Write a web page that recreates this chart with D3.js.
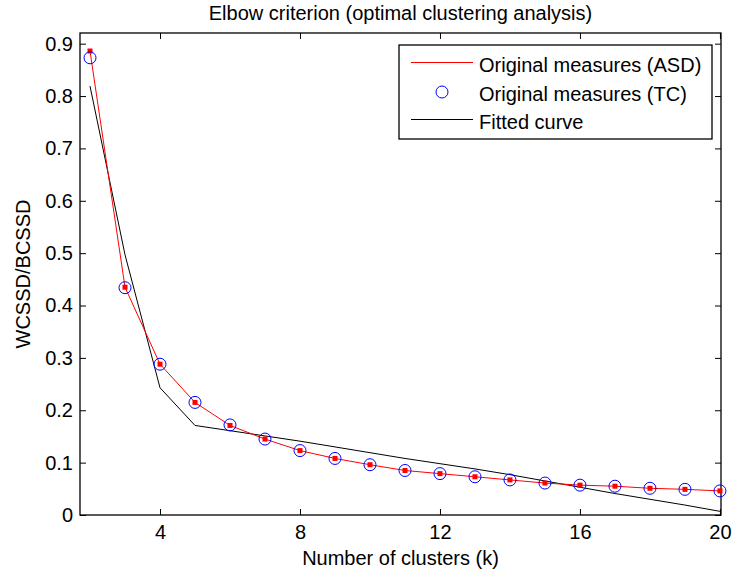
<!DOCTYPE html>
<html>

<head>
  <script src="https://d3js.org/d3.v7.min.js"></script>
  <style>
    body {
      margin: 0;
      background: #fff;
    }

    text {
      font-family: "Liberation Sans", Arial, sans-serif;
      fill: #000;
    }

    .tick line {
      stroke: #000;
    }
  </style>
</head>

<body>
  <div id="chart"></div>
  <script type="text/javascript">
    // number of clusters
    var clusters = [2, 3, 4, 5, 6, 7, 8, 9, 10, 11, 12, 13, 14, 15, 16, 17, 18, 19, 20];
    // red line with square markers
    var asd = [0.886, 0.435, 0.288, 0.215, 0.171, 0.145, 0.123, 0.108, 0.096, 0.085, 0.079, 0.073,
      0.067, 0.061, 0.057, 0.055, 0.051, 0.049, 0.046];
    // blue circles
    var tc = [0.873, 0.434, 0.288, 0.215, 0.172, 0.145, 0.123, 0.108, 0.096, 0.085, 0.079, 0.073,
      0.067, 0.061, 0.057, 0.055, 0.051, 0.049, 0.046];
    // black fitted curve
    var fitted = [0.819, 0.497, 0.243, 0.171, 0.161, 0.151, 0.141, 0.130, 0.119, 0.108, 0.098, 0.088,
      0.077, 0.065, 0.053, 0.041, 0.030, 0.019, 0.007];

    var xTicks = [4, 8, 12, 16, 20];
    var yTicks = [0, 0.1, 0.2, 0.3, 0.4, 0.5, 0.6, 0.7, 0.8, 0.9];
    var legendLabels = ["Original measures (ASD)", "Original measures (TC)", "Fitted curve"];

    var svg = d3.select("#chart").append("svg")
      .attr("width", 733)
      .attr("height", 575);

    var plotL = 80, plotR = 721, plotT = 33, plotB = 515;

    var x = d3.scaleLinear().domain([1.714, 20.03]).range([plotL, plotR]);
    var y = d3.scaleLinear().domain([0, 0.9204]).range([plotB, plotT]);

    // axes, ticks pointing inward
    svg.append("g")
      .attr("transform", "translate(0," + plotB + ")")
      .call(d3.axisBottom(x).tickValues(xTicks).tickSizeInner(-6).tickSizeOuter(0).tickPadding(10))
      .call(function (g) {g.select(".domain").remove();})
      .selectAll("text").style("font-size", "20px");

    svg.append("g")
      .attr("transform", "translate(0," + plotT + ")")
      .call(d3.axisTop(x).tickValues(xTicks).tickSizeInner(-6).tickSizeOuter(0).tickFormat(""))
      .call(function (g) {g.select(".domain").remove();});

    svg.append("g")
      .attr("transform", "translate(" + plotL + ",0)")
      .call(d3.axisLeft(y).tickValues(yTicks).tickSizeInner(-6).tickSizeOuter(0).tickPadding(7)
        .tickFormat(function (d) {return d === 0 ? "0" : d3.format(".1f")(d);}))
      .call(function (g) {g.select(".domain").remove();})
      .selectAll("text").style("font-size", "20px");

    svg.append("g")
      .attr("transform", "translate(" + plotR + ",0)")
      .call(d3.axisRight(y).tickValues(yTicks).tickSizeInner(-6).tickSizeOuter(0).tickFormat(""))
      .call(function (g) {g.select(".domain").remove();});

    svg.append("rect")
      .attr("x", plotL)
      .attr("y", plotT)
      .attr("width", plotR - plotL)
      .attr("height", plotB - plotT)
      .attr("fill", "none")
      .attr("stroke", "#000")
      .attr("stroke-width", 1.3);

    // fitted curve
    var line = d3.line()
      .x(function (d) {return x(d[0]);})
      .y(function (d) {return y(d[1]);});

    svg.append("path")
      .datum(d3.zip(clusters, fitted))
      .attr("d", line)
      .attr("fill", "none")
      .attr("stroke", "#000")
      .attr("stroke-width", 1);

    // ASD line + square markers
    svg.append("path")
      .datum(d3.zip(clusters, asd))
      .attr("d", line)
      .attr("fill", "none")
      .attr("stroke", "#ff0000")
      .attr("stroke-width", 1);

    svg.append("g").selectAll("rect")
      .data(d3.zip(clusters, asd))
      .enter().append("rect")
      .attr("x", function (d) {return x(d[0]) - 2.5;})
      .attr("y", function (d) {return y(d[1]) - 2.5;})
      .attr("width", 5)
      .attr("height", 5)
      .attr("fill", "#ff0000");

    // TC circles
    svg.append("g").selectAll("circle")
      .data(d3.zip(clusters, tc))
      .enter().append("circle")
      .attr("cx", function (d) {return x(d[0]);})
      .attr("cy", function (d) {return y(d[1]);})
      .attr("r", 6)
      .attr("fill", "none")
      .attr("stroke", "#0000ff")
      .attr("stroke-width", 1);

    // legend
    var legend = svg.append("g");
    legend.append("rect")
      .attr("x", 399)
      .attr("y", 45)
      .attr("width", 313)
      .attr("height", 94)
      .attr("fill", "#fff")
      .attr("stroke", "#000")
      .attr("stroke-width", 1.3);

    legend.selectAll("text")
      .data(legendLabels)
      .enter().append("text")
      .attr("x", 479)
      .attr("y", function (d, i) {return 72 + i * 28.5;})
      .style("font-size", "20px")
      .text(function (d) {return d;});

    legend.append("line")
      .attr("x1", 411).attr("x2", 473)
      .attr("y1", 62.5).attr("y2", 62.5)
      .attr("stroke", "#ff0000");
    legend.append("circle")
      .attr("cx", 442).attr("cy", 92)
      .attr("r", 6)
      .attr("fill", "none")
      .attr("stroke", "#0000ff");
    legend.append("line")
      .attr("x1", 411).attr("x2", 473)
      .attr("y1", 119.5).attr("y2", 119.5)
      .attr("stroke", "#000");

    // titles
    svg.append("text")
      .attr("x", (plotL + plotR) / 2)
      .attr("y", 20)
      .attr("text-anchor", "middle")
      .style("font-size", "20px")
      .text("Elbow criterion (optimal clustering analysis)");

    svg.append("text")
      .attr("x", (plotL + plotR) / 2)
      .attr("y", 565)
      .attr("text-anchor", "middle")
      .style("font-size", "20px")
      .text("Number of clusters (k)");

    svg.append("text")
      .attr("transform", "translate(30," + ((plotT + plotB) / 2) + ") rotate(-90)")
      .attr("text-anchor", "middle")
      .style("font-size", "20px")
      .text("WCSSD/BCSSD");
  </script>
</body>

</html>
